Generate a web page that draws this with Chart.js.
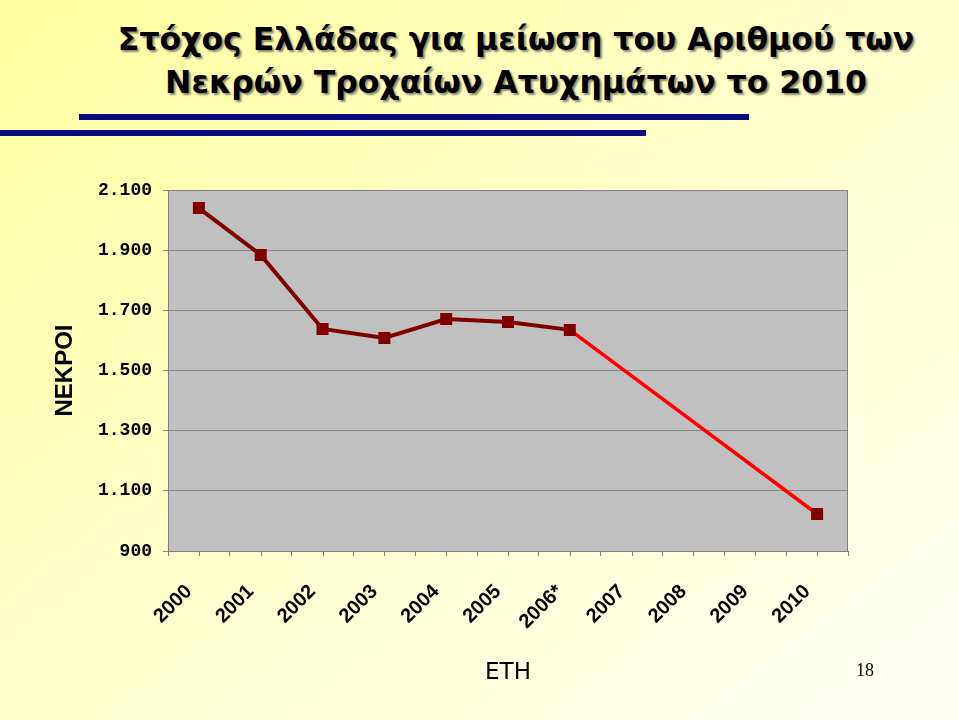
<!DOCTYPE html>
<html>
<head>
<meta charset="utf-8">
<script src="https://cdn.jsdelivr.net/npm/chart.js@4"></script>
<style>
  html, body { margin: 0; padding: 0; }
  body {
    width: 959px; height: 720px; overflow: hidden; position: relative;
    background: linear-gradient(to bottom right, #FFFFA0 0%, #FFFFCC 50%, #FFFFF6 100%);
  }
  #title {
    position: absolute; left: 72px; width: 888px; top: 18px;
    text-align: center; font-family: "DejaVu Sans", sans-serif; font-weight: bold;
    font-size: 31.5px; line-height: 43px; color: #000;
    text-shadow: 2px 2px 2px #8a8a70;
  }
  .bar { position: absolute; background: #0B0B80; height: 6px; }
  #wrap { position: absolute; left: 0; top: 0; width: 959px; height: 720px; }
  #page { position: absolute; left: 845px; width: 40px; top: 660px; text-align: center;
    font-family: "Liberation Serif", serif; font-size: 18px; }
</style>
</head>
<body>
<div id="title">Στόχος Ελλάδας για μείωση του Αριθμού των<br>Νεκρών Τροχαίων Ατυχημάτων το 2010</div>
<div class="bar" style="left:79px; width:670px; top:114px;"></div>
<div class="bar" style="left:0px; width:646px; top:130px;"></div>
<div id="wrap"><canvas id="myChart"></canvas></div>
<div id="page">18</div>
<script>
// Χρόνια (άξονας Χ)
const years = ['2000', '2001', '2002', '2003', '2004', '2005', '2006*', '2007', '2008', '2009', '2010'];
// Νεκροί ανά έτος - 2010 είναι ο στόχος
const deaths = [2040, 1884, 1638, 1608, 1671, 1661, 1635, null, null, null, 1023];
const yMin = 900;
const yMax = 2100;
const yStep = 200;

document.addEventListener("DOMContentLoaded", function() {
    // γκρι φόντο και πλαίσιο της περιοχής σχεδίασης
    const plotBg = {
        id: 'plotBg',
        beforeDraw(chart) {
            const a = chart.chartArea, c = chart.ctx;
            c.save();
            c.fillStyle = '#C0C0C0';
            c.fillRect(a.left, a.top, a.right - a.left, a.bottom - a.top);
            c.restore();
        },
        afterDatasetsDraw(chart) {
            const a = chart.chartArea, c = chart.ctx;
            c.save();
            c.strokeStyle = '#808080';
            c.lineWidth = 1;
            c.strokeRect(a.left + 0.5, a.top + 0.5, a.right - a.left - 1, a.bottom - a.top);
            // μικρές γραμμές στο κέντρο κάθε κατηγορίας
            const x = chart.scales.x;
            c.beginPath();
            for (let i = 0; i < years.length; i++) {
                const px = Math.round(x.getPixelForValue(i)) + 0.5;
                c.moveTo(px, a.bottom);
                c.lineTo(px, a.bottom + 5);
            }
            c.stroke();
            c.restore();
        }
    };

    const ctx = document.getElementById('myChart').getContext('2d');
    const myChart = new Chart(ctx, {
        type: 'line',
        data: {
            labels: years,
            datasets: [{
                label: 'Νεκροί',
                data: deaths,
                borderColor: '#800000',
                borderWidth: 4,
                backgroundColor: '#800000',
                pointStyle: 'rect',
                pointRadius: 8.5,
                pointBackgroundColor: '#800000',
                pointBorderColor: '#800000',
                pointBorderWidth: 0,
                spanGaps: true,
                tension: 0,
                segment: {
                    borderColor: c => c.p0DataIndex >= 6 ? '#FF0000' : undefined,
                    borderWidth: c => c.p0DataIndex >= 6 ? 3.5 : undefined
                }
            }]
        },
        options: {
            responsive: true,
            maintainAspectRatio: false,
            animation: false,
            layout: { padding: { top: 190, right: 111, left: 0, bottom: 0 } },
            scales: {
                x: {
                    offset: true,
                    afterFit: s => { s.height = 169; },
                    grid: { display: true, drawOnChartArea: false, offset: true, tickLength: 5, color: '#808080' },
                    border: { display: true, color: '#707070' },
                    ticks: {
                        color: '#000',
                        font: { family: 'Liberation Sans', weight: 'bold', size: 20 },
                        minRotation: 45, maxRotation: 45,
                        padding: 24,
                        labelOffset: -10,
                        autoSkip: false
                    },
                    title: {
                        display: true,
                        text: 'ΕΤΗ',
                        color: '#000',
                        font: { family: 'DejaVu Sans', size: 23 },
                        padding: { top: 33, bottom: 33 }
                    }
                },
                y: {
                    min: yMin,
                    max: yMax,
                    afterFit: s => { s.width = 168; },
                    grid: { color: '#8a8a8a', tickLength: 5 },
                    border: { display: true, color: '#707070' },
                    ticks: {
                        stepSize: yStep,
                        color: '#000',
                        padding: 11,
                        font: { family: 'Liberation Mono', weight: 'bold', size: 18 },
                        callback: v => v.toLocaleString('el-GR')
                    },
                    title: {
                        display: true,
                        text: 'ΝΕΚΡΟΙ',
                        color: '#000',
                        font: { family: 'Liberation Sans', weight: 'bold', size: 24 },
                        padding: { top: 51, bottom: 0 }
                    }
                }
            },
            plugins: {
                legend: { display: false },
                tooltip: { enabled: false }
            }
        },
        plugins: [plotBg]
    });
});
</script>
</body>
</html>
